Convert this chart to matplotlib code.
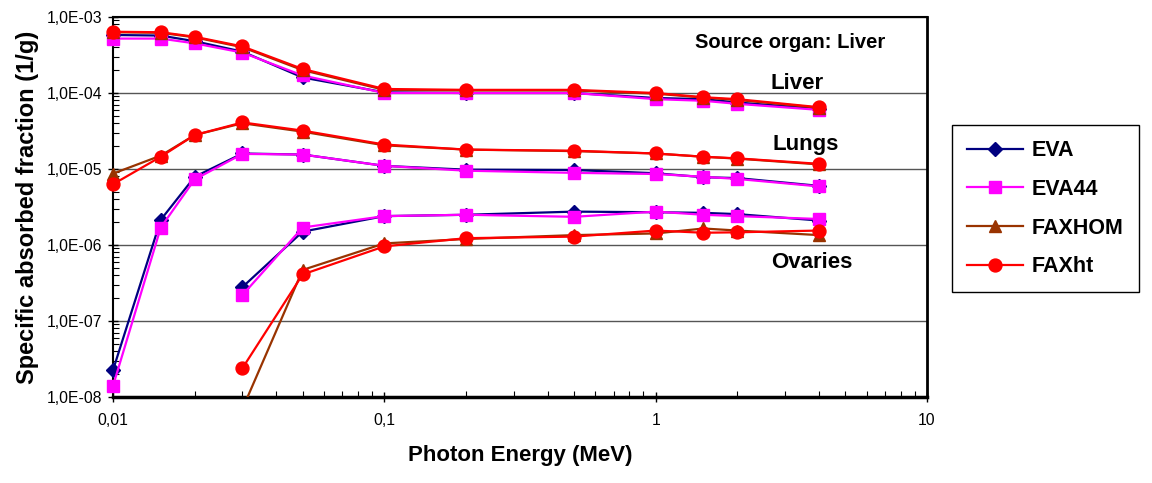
import matplotlib

matplotlib.use("Agg")
import matplotlib.pyplot as plt
from matplotlib.ticker import FixedLocator, LogLocator, NullFormatter

plt.rcParams.update({"font.family": "Liberation Sans"})

energy = [0.01, 0.015, 0.02, 0.03, 0.05, 0.1, 0.2, 0.5, 1, 1.5, 2, 4]
energy_ov = [0.03, 0.05, 0.1, 0.2, 0.5, 1, 1.5, 2, 4]

# target: liver
liver_eva = [5.8e-4, 5.7e-4, 4.8e-4, 3.5e-4, 1.6e-4, 1.02e-4, 1.0e-4, 1.0e-4, 8.6e-5, 8.3e-5, 7.5e-5, 6.2e-5]
liver_eva44 = [5.2e-4, 5.2e-4, 4.5e-4, 3.4e-4, 1.7e-4, 1.0e-4, 1.0e-4, 1.0e-4, 8.3e-5, 7.9e-5, 7.2e-5, 6.0e-5]
liver_faxhom = [6.3e-4, 6.2e-4, 5.4e-4, 4.0e-4, 2.0e-4, 1.1e-4, 1.08e-4, 1.08e-4, 9.8e-5, 8.7e-5, 8.1e-5, 6.4e-5]
liver_faxht = [6.4e-4, 6.3e-4, 5.5e-4, 4.1e-4, 2.07e-4, 1.13e-4, 1.1e-4, 1.1e-4, 1.0e-4, 8.8e-5, 8.3e-5, 6.5e-5]

# target: lungs
lungs_eva = [2.26e-8, 2.15e-6, 7.9e-6, 1.6e-5, 1.55e-5, 1.1e-5, 9.8e-6, 9.7e-6, 8.8e-6, 7.8e-6, 7.6e-6, 6.0e-6]
lungs_eva44 = [1.4e-8, 1.7e-6, 7.3e-6, 1.58e-5, 1.55e-5, 1.1e-5, 9.5e-6, 8.9e-6, 8.6e-6, 7.9e-6, 7.4e-6, 5.9e-6]
lungs_faxhom = [8.7e-6, 1.5e-5, 2.8e-5, 4.0e-5, 3.1e-5, 2.05e-5, 1.8e-5, 1.72e-5, 1.6e-5, 1.45e-5, 1.37e-5, 1.15e-5]
lungs_faxht = [6.3e-6, 1.45e-5, 2.8e-5, 4.1e-5, 3.2e-5, 2.1e-5, 1.8e-5, 1.74e-5, 1.6e-5, 1.45e-5, 1.38e-5, 1.17e-5]

# target: ovaries (from 30 keV)
ov_eva = [2.8e-7, 1.5e-6, 2.4e-6, 2.5e-6, 2.75e-6, 2.7e-6, 2.65e-6, 2.55e-6, 2.1e-6]
ov_eva44 = [2.2e-7, 1.7e-6, 2.4e-6, 2.5e-6, 2.35e-6, 2.75e-6, 2.5e-6, 2.4e-6, 2.2e-6]
ov_faxhom = [7e-9, 4.7e-7, 1.05e-6, 1.2e-6, 1.35e-6, 1.42e-6, 1.65e-6, 1.55e-6, 1.35e-6]
ov_faxht = [2.4e-8, 4.1e-7, 9.6e-7, 1.23e-6, 1.29e-6, 1.55e-6, 1.45e-6, 1.47e-6, 1.55e-6]

series = [
    ("EVA", "#000080", "D", 7, [liver_eva, lungs_eva, ov_eva]),
    ("EVA44", "#FF00FF", "s", 8.6, [liver_eva44, lungs_eva44, ov_eva44]),
    ("FAXHOM", "#993300", "^", 9, [liver_faxhom, lungs_faxhom, ov_faxhom]),
    ("FAXht", "#FF0000", "o", 9.3, [liver_faxht, lungs_faxht, ov_faxht]),
]

fig = plt.figure(figsize=(11.52, 4.83), dpi=100)
ax = fig.add_axes([0.0981, 0.178, 0.7066, 0.7868])

for name, color, marker, ms, groups in series:
    for i, vals in enumerate(groups):
        x = energy if len(vals) == len(energy) else energy_ov
        # points below the axis stay hidden, the rest may overlap the frame
        inside = min(vals) >= 1e-8
        ax.plot(x, vals, color=color, lw=1.6, marker=marker, ms=ms,
                markeredgecolor=color, label=name if i == 0 else None,
                zorder=3, clip_on=not inside)

ax.set_xscale("log")
ax.set_yscale("log")
ax.set_xlim(0.01, 10)
ax.set_ylim(1e-8, 1e-3)

ax.yaxis.set_major_locator(FixedLocator([1e-8, 1e-7, 1e-6, 1e-5, 1e-4, 1e-3]))
ax.set_yticklabels(["1,0E-08", "1,0E-07", "1,0E-06", "1,0E-05", "1,0E-04", "1,0E-03"])
ax.yaxis.set_minor_locator(LogLocator(base=10, subs=range(2, 10)))
ax.yaxis.set_minor_formatter(NullFormatter())
ax.xaxis.set_major_locator(FixedLocator([0.01, 0.1, 1, 10]))
ax.set_xticklabels(["0,01", "0,1", "1", "10"])
ax.xaxis.set_minor_locator(LogLocator(base=10, subs=range(2, 10)))
ax.xaxis.set_minor_formatter(NullFormatter())

ax.tick_params(axis="both", which="major", labelsize=11.3, direction="inout",
               length=7, width=1)
ax.tick_params(axis="y", which="major", pad=4)
ax.tick_params(axis="x", which="major", pad=8)
ax.tick_params(axis="both", which="minor", direction="in", length=4, width=0.8)

ax.grid(axis="y", which="major", color="#555555", lw=1.0)
for side in ax.spines.values():
    side.set_color("black")
    side.set_linewidth(1.5)
ax.spines["bottom"].set_linewidth(2.5)
ax.spines["right"].set_linewidth(2.0)

ax.set_ylabel("Specific absorbed fraction (1/g)", fontsize=17, fontweight="bold", labelpad=6)
ax.set_xlabel("Photon Energy (MeV)", fontsize=16, fontweight="bold", labelpad=12)

ax.text(0.832, 0.932, "Source organ: Liver", transform=ax.transAxes,
        fontsize=14.5, fontweight="bold", ha="center", va="center")
ax.text(0.840, 0.825, "Liver", transform=ax.transAxes,
        fontsize=16, fontweight="bold", ha="center", va="center")
ax.text(0.851, 0.664, "Lungs", transform=ax.transAxes,
        fontsize=16, fontweight="bold", ha="center", va="center")
ax.text(0.858, 0.353, "Ovaries", transform=ax.transAxes,
        fontsize=16, fontweight="bold", ha="center", va="center")

leg = fig.legend(loc="upper left", bbox_to_anchor=(0.817, 0.763), frameon=True,
                 fancybox=False, edgecolor="black", framealpha=1,
                 prop={"weight": "bold", "size": 15.5}, handlelength=2.6,
                 labelspacing=0.82, borderpad=0.7, handletextpad=0.4)
leg.get_frame().set_linewidth(1.0)

fig.savefig("out.png", dpi=100)
